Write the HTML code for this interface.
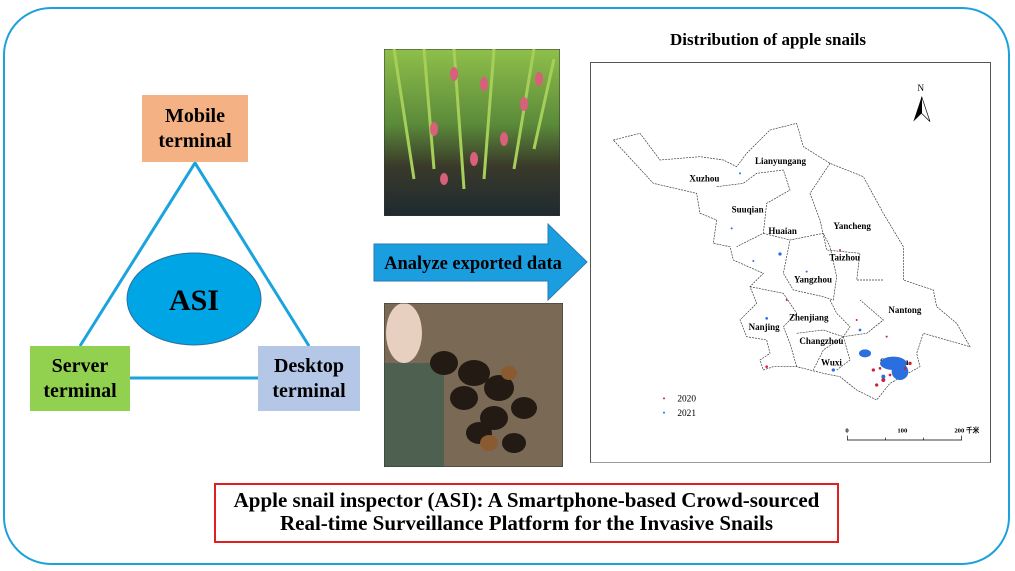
<!DOCTYPE html>
<html><head><meta charset="utf-8"><style>
*{margin:0;padding:0}
body{width:1015px;height:571px;background:#fff;position:relative;overflow:hidden;font-family:"Liberation Serif",serif}
.a{position:absolute}
.box{position:absolute;display:flex;align-items:center;justify-content:center;text-align:center;font-weight:bold;font-size:20px;line-height:25px;color:#000}
</style></head><body>
<div class="a" style="left:3px;top:7px;width:1003px;height:554px;border:2px solid #1da1dc;border-radius:48px"></div>

<svg class="a" style="left:0;top:0" width="1015" height="571">
<polyline points="80,346 195,163 309,346" fill="none" stroke="#1aa3dd" stroke-width="3"/>
<line x1="130" y1="378" x2="258" y2="378" stroke="#1aa3dd" stroke-width="3"/>
<ellipse cx="194" cy="299" rx="67" ry="46" fill="#00a5e6" stroke="#2a6fa0" stroke-width="1"/>
<text x="194" y="310" text-anchor="middle" font-family="Liberation Serif" font-weight="bold" font-size="30">ASI</text>
<polygon points="374,244 548,244 548,224 587,262 548,300 548,281 374,281" fill="#1a9ee0" stroke="#2a7ab0" stroke-width="1"/>
<text x="473" y="269" text-anchor="middle" font-family="Liberation Serif" font-weight="bold" font-size="18.5">Analyze exported data</text>
</svg>

<div class="box" style="left:142px;top:95px;width:106px;height:67px;background:#f4b183">Mobile<br>terminal</div>
<div class="box" style="left:30px;top:346px;width:100px;height:65px;background:#92d050">Server<br>terminal</div>
<div class="box" style="left:258px;top:346px;width:102px;height:65px;background:#b4c7e7">Desktop<br>terminal</div>

<svg class="a" style="left:384px;top:49px" width="176" height="167">
<defs><linearGradient id="g1" x1="0" y1="0" x2="0" y2="1"><stop offset="0" stop-color="#8fbf4a"/><stop offset="0.45" stop-color="#5b8a3a"/><stop offset="0.7" stop-color="#3a3a2a"/><stop offset="1" stop-color="#1e2a30"/></linearGradient></defs>
<rect width="176" height="167" fill="url(#g1)" stroke="#333"/>
<g stroke="#a6cf5a" stroke-width="3"><line x1="10" y1="0" x2="30" y2="130"/><line x1="40" y1="0" x2="50" y2="120"/><line x1="70" y1="0" x2="80" y2="140"/><line x1="110" y1="0" x2="100" y2="130"/><line x1="150" y1="0" x2="130" y2="120"/><line x1="170" y1="10" x2="150" y2="100"/></g>
<g fill="#d8607a"><ellipse cx="70" cy="25" rx="4" ry="7"/><ellipse cx="100" cy="35" rx="4" ry="7"/><ellipse cx="140" cy="55" rx="4" ry="7"/><ellipse cx="50" cy="80" rx="4" ry="7"/><ellipse cx="120" cy="90" rx="4" ry="7"/><ellipse cx="90" cy="110" rx="4" ry="7"/><ellipse cx="60" cy="130" rx="4" ry="6"/><ellipse cx="155" cy="30" rx="4" ry="7"/></g>
</svg>
<svg class="a" style="left:384px;top:303px" width="179" height="164">
<rect width="179" height="164" fill="#7a6a55"/>
<rect x="0" y="60" width="60" height="104" fill="#4e6050"/>
<ellipse cx="20" cy="30" rx="18" ry="30" fill="#e8d0c0"/>
<g fill="#241a14"><ellipse cx="60" cy="60" rx="14" ry="12"/><ellipse cx="90" cy="70" rx="16" ry="13"/><ellipse cx="115" cy="85" rx="15" ry="13"/><ellipse cx="80" cy="95" rx="14" ry="12"/><ellipse cx="110" cy="115" rx="14" ry="12"/><ellipse cx="140" cy="105" rx="13" ry="11"/><ellipse cx="95" cy="130" rx="13" ry="11"/><ellipse cx="130" cy="140" rx="12" ry="10"/></g>
<g fill="#8a5a30"><ellipse cx="105" cy="140" rx="9" ry="8"/><ellipse cx="125" cy="70" rx="8" ry="7"/></g>
<rect width="179" height="164" fill="none" stroke="#333"/>
</svg>

<div class="a" style="left:670px;top:30px;font-weight:bold;font-size:17px;white-space:nowrap">Distribution of apple snails</div>

<div class="a" style="left:590px;top:62px;width:399px;height:399px;border:1px solid #555;border-bottom-color:#999"></div>
<svg class="a" style="left:590px;top:60px" width="420" height="410" viewBox="0 0 1260 1230" font-family="Liberation Serif" font-weight="bold" font-size="27">
<path d="M70,240 L150,220 L210,300 L330,290 L400,300 L440,320 L470,280 L540,210 L620,190 L640,260 L720,310 L820,350 L880,460 L940,560 L940,660 L1030,690 L1040,740 L1100,790 L1140,860 L1000,820 L980,880 L990,920 L900,970 L860,1020 L800,990 L750,950 L700,940 L620,920 L550,920 L520,930 L510,900 L540,880 L530,840 L470,830 L450,780 L500,730 L480,680 L520,640 L430,600 L420,560 L370,550 L380,480 L330,460 L320,400 L190,370 Z" fill="none" stroke="#333" stroke-width="2" stroke-dasharray="6,3"/>
<g fill="none" stroke="#333" stroke-width="2" stroke-dasharray="6,3">
<path d="M380,380 L460,370 L500,340 L580,330 L600,390 L530,430 L520,520 L440,560"/>
<path d="M720,310 L660,400 L690,480 L710,570 L810,580 L800,660 L880,660"/>
<path d="M520,520 L600,540 L700,520 L720,560 L740,650 L730,720 L700,710 L610,690 L580,640 L600,540"/>
<path d="M480,680 L580,700 L620,760 L580,800 L600,850 L620,920"/>
<path d="M720,720 L740,760 L780,800 L760,830 L830,820 L880,780 L810,720"/>
<path d="M620,820 L700,810 L760,830 L700,870 L670,930"/>
<path d="M760,830 L780,900 L740,930"/>
</g>
<text x="495" y="312">Lianyungang</text><text x="298" y="364">Xuzhou</text><text x="425" y="457">Suuqian</text>
<text x="535" y="522">Huaian</text><text x="730" y="507">Yancheng</text><text x="718" y="602">Taizhou</text>
<text x="612" y="667">Yangzhou</text><text x="895" y="759">Nantong</text><text x="597" y="782">Zhenjiang</text>
<text x="476" y="810">Nanjing</text><text x="628" y="852">Changzhou</text><text x="693" y="917">Wuxi</text><text x="870" y="915">Suzhou</text>
<g fill="#d0203a"><circle cx="830" cy="880" r="6"/><circle cx="850" cy="930" r="5"/><circle cx="880" cy="960" r="6"/><circle cx="940" cy="950" r="5"/><circle cx="960" cy="910" r="5"/><circle cx="860" cy="975" r="5"/><circle cx="750" cy="570" r="3"/><circle cx="530" cy="920" r="4"/><circle cx="590" cy="720" r="3"/><circle cx="890" cy="830" r="3"/><circle cx="800" cy="780" r="3"/></g>
<g fill="#2a6fe0"><ellipse cx="910" cy="910" rx="40" ry="20"/><ellipse cx="930" cy="935" rx="25" ry="25"/><ellipse cx="825" cy="880" rx="18" ry="12"/><circle cx="570" cy="582" r="5"/><circle cx="450" cy="340" r="3"/><circle cx="425" cy="505" r="3"/><circle cx="490" cy="603" r="3"/><circle cx="530" cy="775" r="4"/><circle cx="730" cy="930" r="5"/><circle cx="810" cy="810" r="4"/><circle cx="650" cy="635" r="3"/><circle cx="880" cy="950" r="6"/></g>
<g fill="#d0203a"><circle cx="870" cy="925" r="4"/><circle cx="900" cy="945" r="4"/><circle cx="945" cy="925" r="4"/></g>
<text x="982" y="93" font-weight="normal" font-size="28">N</text>
<polygon points="995,110 970,185 995,160" fill="#000"/><polygon points="995,110 1020,185 995,160" fill="none" stroke="#000" stroke-width="2"/>
<circle cx="222" cy="1015" r="3" fill="#d0203a"/><circle cx="222" cy="1058" r="3" fill="#2a6fe0"/>
<text x="262" y="1025" font-weight="normal" font-size="28">2020</text><text x="262" y="1068" font-weight="normal" font-size="28">2021</text>
<path d="M772,1127 V1140 H1115 V1127 M887,1133 V1140 M1000,1133 V1140" fill="none" stroke="#000" stroke-width="2"/>
<text x="766" y="1117" font-size="20">0</text><text x="922" y="1117" font-size="20">100</text><text x="1093" y="1117" font-size="20">200 千米</text>
</svg>

<div class="a" style="left:214px;top:483px;width:621px;height:52px;border:2px solid #e02020;text-align:center;font-weight:bold;font-size:21px;line-height:23px;padding-top:4px;white-space:nowrap">Apple snail inspector (ASI): A Smartphone-based Crowd-sourced<br>Real-time Surveillance Platform for the Invasive Snails</div>
</body></html>
